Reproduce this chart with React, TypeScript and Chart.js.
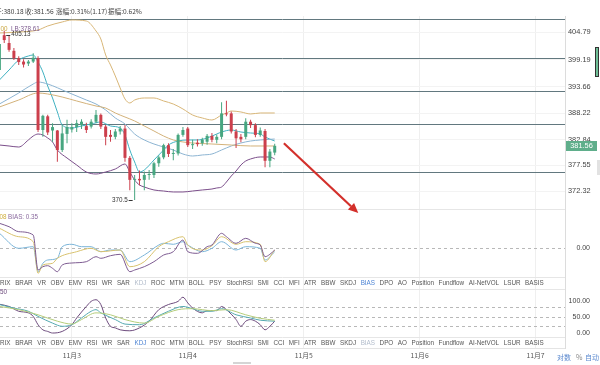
import { useEffect, useRef } from "react";
import { Chart, registerables } from "chart.js";

Chart.register(...registerables);

const LATIN = '"Liberation Sans", Arial, sans-serif';
const CJK = '"Noto Sans CJK SC", "Liberation Sans", sans-serif';

// ---------------- data ----------------
const opens = [
  397.1, 404.2, 402.6, 401.0, 399.5, 398.8, 398.4, 398.8, 399.5, 384.8,
  387.6, 384.7, 384.7, 380.7, 384.0, 384.9, 385.4, 385.8, 385.6, 385.5,
  386.5, 387.9, 385.5, 383.8, 383.4, 384.5, 385.1, 379.1, 374.6, 374.8,
  374.6, 375.6, 375.6, 378.0, 379.2, 381.7, 379.9, 380.0, 383.8, 385.1,
  381.7, 382.2, 382.1, 382.4, 383.6, 382.8, 383.4, 388.2, 388.2, 384.5,
  383.4, 383.4, 386.5, 385.8, 383.8, 384.6, 378.5, 380.18,
];
const highs = [
  402.9, 405.13, 404.2, 401.6, 399.9, 399.3, 399.1, 400.5, 399.9, 387.9,
  387.9, 386.2, 384.8, 385.8, 386.9, 386.2, 386.9, 387.0, 386.3, 387.0,
  388.9, 388.2, 385.8, 384.8, 385.0, 385.6, 385.8, 379.5, 375.6, 376.5,
  376.3, 376.6, 378.3, 379.6, 382.0, 382.1, 380.9, 384.1, 385.4, 385.4,
  382.8, 382.9, 383.2, 384.0, 384.2, 383.9, 390.5, 390.8, 388.6, 385.0,
  384.0, 387.2, 386.9, 386.2, 385.3, 385.0, 380.9, 382.0,
];
const lows = [
  396.1, 402.6, 400.8, 399.1, 398.1, 397.6, 397.9, 398.5, 384.4, 383.4,
  383.8, 382.4, 378.3, 380.3, 382.1, 384.3, 384.4, 385.0, 384.2, 385.1,
  386.2, 385.0, 381.7, 382.4, 382.9, 383.9, 378.3, 372.5, 370.5, 373.5,
  372.5, 374.6, 375.0, 377.3, 378.8, 379.3, 378.6, 379.6, 383.4, 381.3,
  380.9, 381.4, 381.6, 381.8, 382.3, 382.1, 382.9, 387.6, 384.1, 381.1,
  382.3, 382.9, 385.2, 383.3, 383.4, 377.2, 377.2, 379.64,
];
const closes = [
  402.4, 403.2, 401.2, 399.5, 398.7, 398.2, 398.8, 399.6, 384.8, 387.7,
  384.3, 385.4, 380.7, 384.1, 385.4, 385.4, 386.2, 386.5, 384.8, 386.5,
  387.9, 385.5, 383.4, 383.4, 384.5, 385.1, 379.1, 374.6, 374.8, 374.5,
  375.6, 375.7, 378.0, 379.2, 381.7, 379.9, 380.0, 383.8, 384.8, 381.7,
  381.9, 381.9, 382.8, 383.6, 382.8, 383.4, 388.2, 388.0, 384.5, 383.1,
  382.9, 386.5, 385.8, 383.8, 384.7, 378.5, 380.39, 381.56,
];

type Pt = [number, number];
const bollUpper: Pt[] = [[0,404.65],[4,404.85],[8,405.26],[10,406.08],[13,406.9],[15,407.31],[18,407.1],[20,405.06],[21,403.42],[22,400.15],[23,398.1],[24,395.85],[25,393.4],[26,391.15],[27,390.33],[28,390.94],[30,391.35],[32,391.35],[34,390.74],[36,390.12],[38,389.1],[40,387.87],[42,387.26],[44,386.85],[46,387.87],[47,388.28],[48,388.69],[50,388.49],[52,388.08],[54,388.28],[57,388.28]];
const bollMid: Pt[] = [[0,389.51],[4,390.94],[8,392.37],[10,392.17],[13,391.55],[16,390.74],[20,389.71],[22,389.3],[24,388.28],[26,387.46],[28,386.65],[30,385.62],[32,384.6],[34,383.57],[36,382.76],[38,382.35],[40,382.14],[44,381.94],[48,381.73],[52,381.53],[57,381.53]];
const bollLower: Pt[] = [[0,381.73],[2,381.53],[4,381.32],[6,382.76],[7,383.57],[8,383.98],[9,383.78],[10,383.17],[11,382.35],[12,380.71],[14,379.07],[16,377.64],[18,376.21],[20,375.8],[22,376.21],[24,376.82],[26,377.85],[27,376.21],[28,374.57],[29,373.55],[30,373.14],[32,372.53],[34,372.32],[36,372.12],[38,372.12],[40,372.32],[42,372.53],[44,372.73],[45,372.94],[46,373.14],[47,374.16],[48,375.39],[49,376.41],[50,377.64],[51,378.46],[52,378.87],[54,379.28],[56,379.28],[57,378.87]];
const maFast: Pt[] = [[0,395.03],[2,397.08],[4,399.12],[6,399.94],[7,400.15],[8,398.71],[9,396.67],[10,393.8],[11,391.35],[12,388.49],[13,385.83],[15,385.21],[17,385.62],[19,386.03],[21,386.44],[23,385.62],[25,385.21],[26,383.78],[27,380.71],[28,378.26],[29,376.21],[30,376.62],[32,378.66],[34,380.71],[35,381.73],[37,382.55],[39,382.76],[41,382.76],[43,383.17],[45,383.98],[46,384.39],[48,384.8],[50,384.39],[52,384.19],[54,383.98],[55,383.37],[57,382.55]];
const maSlow: Pt[] = [[0,390.12],[4,392.37],[7,394.21],[8,394.62],[10,394.21],[14,392.58],[18,390.94],[20,390.12],[22,388.9],[24,387.26],[26,386.03],[28,383.98],[30,382.76],[32,381.94],[34,381.32],[36,380.71],[38,379.89],[40,379.48],[42,379.69],[44,379.89],[46,380.71],[48,381.53],[50,382.14],[52,382.55],[54,382.76],[57,382.96]];

const biasPurple: Pt[] = [[0,2.44],[2,2.1],[4,1.6],[7,1.27],[8,-2.23],[9,-1.9],[10,-1.8],[11,-2.06],[12,-2.4],[13,-1.73],[15,-1.53],[18,-1.4],[20,-0.9],[21,-1.06],[23,-0.8],[25,-0.66],[27,-2.4],[28,-2.23],[30,-1.9],[32,-1.4],[34,-0.73],[36,-0.4],[38,0.77],[39,-0.4],[41,-0.56],[43,0.1],[44,0.27],[46,1.44],[47,1.1],[49,0.44],[51,0.94],[53,0.44],[54,0.27],[55,-0.9],[56,-0.66],[57,-0.23]];
const biasYellow: Pt[] = [[0,1.94],[4,1.1],[7,0.6],[8,-2.56],[9,-1.73],[11,-1.56],[12,-1.06],[16,-0.4],[19,-0.06],[21,-0.4],[25,-0.23],[27,-1.9],[30,-1.4],[33,0.1],[35,0.6],[38,1.1],[39,0.27],[42,-0.23],[44,0.2],[46,1.1],[49,0.34],[51,0.6],[54,0.34],[55,-1.4],[57,-0.23]];
const biasBlue: Pt[] = [[0,1.44],[4,-0.06],[7,0.1],[8,-2.4],[9,-1.56],[10,-1.23],[12,-1.06],[13,0.1],[15,0.34],[17,0.1],[19,0.1],[21,-0.4],[23,-0.23],[25,-0.23],[27,-1.4],[30,-0.73],[33,0.27],[34,0.44],[36,0.34],[38,0.6],[39,0.27],[42,-0.4],[44,-0.06],[46,0.6],[49,-0.23],[51,0.1],[54,-0.06],[55,-1.23],[57,-0.4]];

const kdjJ: Pt[] = [[0,89],[2,82],[4,67],[6,62],[7,51],[8,25],[9,9],[10,4],[11,-1],[13,4],[15,25],[16,46],[18,82],[19,98],[20,103],[21,88],[22,46],[23,20],[24,15],[25,9],[27,6],[29,15],[31,36],[33,72],[35,88],[37,98],[38,111],[39,93],[40,77],[42,62],[43,69],[45,69],[46,82],[47,72],[49,41],[50,20],[51,36],[52,41],[53,36],[54,25],[55,9],[56,20],[57,36]];
const kdjK: Pt[] = [[0,88],[3,77],[6,67],[8,51],[11,30],[13,20],[15,25],[17,46],[19,67],[20,72],[21,62],[24,41],[26,27],[29,25],[32,46],[35,67],[38,82],[40,75],[42,67],[44,67],[46,75],[49,56],[52,46],[54,39],[57,36]];
const kdjD: Pt[] = [[0,82],[4,72],[8,56],[12,36],[15,27],[17,41],[20,62],[23,56],[26,41],[30,30],[33,51],[37,72],[40,75],[44,69],[47,72],[51,56],[54,45],[57,39]];

const priceTicks = [404.79, 399.19, 393.66, 388.22, 382.84, 377.55, 372.32];
const dateTickIndex = [15, 39, 63, 87, 111];
const dateLabels = ["11月3", "11月4", "11月5", "11月6", "11月7"];
const drawnLevels = [407.45, 399.47, 392.78, 385.97, 376.27];
const biasRefLevels = [0];
const biasTickValues = [0];
const kdjRefLevels = [80, 50, 20];
const kdjTickValues = [100, 50, 0];
const arrowFrom: Pt = [58.9, 382.1];
const arrowTo: Pt = [74.3, 367.8];

const quoteOpen = "380.18";
const quoteClose = "381.56";
const changePct = "0.31";
const changeAbs = "1.17";
const amplitudePct = "0.62";
const bollUbLegend = "388.00";
const bollLbLegend = "378.61";
const biasPrevLegend = "0.08";
const biasLegend = "0.35";
const kdjLegend = "36.50";

const indicatorTabs = ["TRIX","BRAR","VR","OBV","EMV","RSI","WR","SAR","KDJ","ROC","MTM","BOLL","PSY","StochRSI","SMI","CCI","MFI","ATR","BBW","SKDJ","BIAS","DPO","AO","Position","Fundflow","AI-NetVOL","LSUR","BASIS"];

const indexRange = [0.124, 117.1];
const priceRange = [340.2, 408.125];
const biasRange = [-10.03, 23.17];
const kdjRange = [-47.8, 989.7];

// ---------------- colours ----------------
const GREEN = "#47a680";
const RED = "#cc3f4c";

function txt(ctx: CanvasRenderingContext2D, s: string, x: number, y: number, color: string, font: string, align: CanvasTextAlign = "left") {
  ctx.font = font;
  ctx.fillStyle = color;
  ctx.textAlign = align;
  ctx.textBaseline = "middle";
  ctx.fillText(s, x, y);
}

function hline(ctx: CanvasRenderingContext2D, x1: number, x2: number, y: number) {
  ctx.beginPath();
  ctx.moveTo(x1, y);
  ctx.lineTo(x2, y);
  ctx.stroke();
}

function drawTabs(ctx: CanvasRenderingContext2D, y: number, active: string, muted: string) {
  const font = `6.3px ${LATIN}`;
  ctx.font = font;
  let x = -3.8;
  for (const t of indicatorTabs) {
    const c = t === active ? "#4d84d4" : t === muted ? "#b2bccb" : "#555";
    txt(ctx, t, x, y, c, font);
    ctx.font = font;
    x += ctx.measureText(t).width + 4.6;
  }
}

const decor = {
  id: "decor",
  beforeDatasetsDraw(chart: any) {
    const { ctx, chartArea, scales } = chart;
    const L = chartArea.left, R = chartArea.right;
    ctx.save();
    ctx.lineWidth = 1;
    ctx.strokeStyle = "#e6e6e6";
    for (const sy of [209.5, 277.5, 289.5, 337.5]) hline(ctx, L, R, sy);
    ctx.setLineDash([3, 3]);
    ctx.strokeStyle = "#b8b8b8";
    for (const v of biasRefLevels) hline(ctx, L, R, Math.round(scales.yb.getPixelForValue(v)) + 0.5);
    for (const v of kdjRefLevels) hline(ctx, L, R, Math.round(scales.yk.getPixelForValue(v)) + 0.5);
    ctx.setLineDash([]);
    ctx.strokeStyle = "#62787f";
    for (const v of drawnLevels) hline(ctx, L, R, Math.round(scales.y.getPixelForValue(v)) + 0.5);
    ctx.restore();
  },
  afterDraw(chart: any) {
    const { ctx, scales } = chart;
    const sx = scales.x, sy = scales.y, sb = scales.yb, sk = scales.yk;
    ctx.save();
    const small = `6.3px ${LATIN}`;
    // header
    const hf = `6.6px ${CJK}`;
    const header = [`开:${quoteOpen}`, `收:${quoteClose}`, `涨幅:${changePct}%(${changeAbs})`, `振幅:${amplitudePct}%`];
    const hx = [-5, 25, 56, 108];
    header.forEach((s, k) => txt(ctx, s, hx[k], 11, "#3c3c3c", hf));

    // main legend
    txt(ctx, `UB:${bollUbLegend}`, 7.5, 29, "#c9a640", small, "right");
    txt(ctx, `LB:${bollLbLegend}`, 11, 29, "#7d5a8e", small);

    // high / low markers
    let hi = 0, lo = 0;
    highs.forEach((v, i) => { if (v > highs[hi]) hi = i; });
    lows.forEach((v, i) => { if (v < lows[lo]) lo = i; });
    ctx.strokeStyle = "#333";
    ctx.lineWidth = 1;
    const hxp = sx.getPixelForValue(hi), hyp = sy.getPixelForValue(highs[hi]) + 4;
    hline(ctx, hxp + 2, hxp + 6, Math.round(hyp) + 0.5);
    txt(ctx, String(highs[hi]), hxp + 7, hyp, "#333", small);
    const lxp = sx.getPixelForValue(lo), lyp = sy.getPixelForValue(lows[lo]);
    hline(ctx, lxp - 6, lxp - 2, Math.round(lyp) + 0.5);
    txt(ctx, String(lows[lo]), lxp - 7, lyp, "#333", small, "right");

    // bias legend
    txt(ctx, `BIAS: ${biasPrevLegend}`, 6.5, 217, "#cfae3c", small, "right");
    txt(ctx, `BIAS: ${biasLegend}`, 8, 217, "#8a6a9e", small);
    // kdj legend
    txt(ctx, `J: ${kdjLegend}`, 7, 292, "#6c4a7c", small, "right");

    // right side labels for sub panels
    const rf = `7px ${LATIN}`;
    for (const v of biasTickValues) txt(ctx, v.toFixed(2), 590, sb.getPixelForValue(v), "#444", rf, "right");
    for (const v of kdjTickValues) txt(ctx, v.toFixed(2), 590, sk.getPixelForValue(v), "#444", rf, "right");

    // tabs
    drawTabs(ctx, 283, "BIAS", "KDJ");
    drawTabs(ctx, 343, "KDJ", "BIAS");

    // last price box
    const last = closes.length - 1;
    const py = sy.getPixelForValue(closes[last]);
    ctx.fillStyle = "#5fae8b";
    ctx.fillRect(566, Math.round(py) - 5, 31, 10);
    txt(ctx, closes[last].toFixed(2), 581.5, py, "#fff", `7.4px ${LATIN}`, "center");

    // right scroll marker
    ctx.fillStyle = "#6fbf97";
    ctx.fillRect(595.5, 47.5, 3, 29);
    ctx.strokeStyle = "#333";
    ctx.strokeRect(595.5, 47.5, 3, 29);
    ctx.fillStyle = "#e2e2e2";
    ctx.fillRect(597, 160, 3, 15);

    // arrow
    const x1 = sx.getPixelForValue(arrowFrom[0]), y1 = sy.getPixelForValue(arrowFrom[1]);
    const x2 = sx.getPixelForValue(arrowTo[0]), y2 = sy.getPixelForValue(arrowTo[1]);
    const a = Math.atan2(y2 - y1, x2 - x1);
    const hl = 10, hw = 4.5;
    const bx = x2 - hl * Math.cos(a), by = y2 - hl * Math.sin(a);
    ctx.strokeStyle = "#d3302b";
    ctx.fillStyle = "#d3302b";
    ctx.lineWidth = 2.2;
    ctx.beginPath();
    ctx.moveTo(x1, y1);
    ctx.lineTo(bx, by);
    ctx.stroke();
    ctx.beginPath();
    ctx.moveTo(x2, y2);
    ctx.lineTo(bx + hw * Math.sin(a), by - hw * Math.cos(a));
    ctx.lineTo(bx - hw * Math.sin(a), by + hw * Math.cos(a));
    ctx.closePath();
    ctx.fill();

    // bottom right controls
    const cf = `7px ${CJK}`;
    txt(ctx, "对数", 557, 357, "#5b89cf", cf);
    txt(ctx, "%", 576, 357, "#888", cf);
    txt(ctx, "自动", 585, 357, "#5b89cf", cf);
    ctx.fillStyle = "#d5d5d5";
    ctx.fillRect(233, 362, 18, 2);
    ctx.restore();
  },
};

function line(data: Pt[], color: string, axis: string, order = 5) {
  return {
    type: "line" as const,
    data: data.map(([x, y]) => ({ x, y })),
    borderColor: color,
    borderWidth: 1,
    pointRadius: 0,
    cubicInterpolationMode: "monotone" as const,
    fill: false,
    yAxisID: axis,
    order,
  };
}

export default function App() {
  const ref = useRef<HTMLCanvasElement>(null);
  useEffect(() => {
    const idx = opens.map((_, i) => i);
    const colors = idx.map((i) => (closes[i] >= opens[i] ? GREEN : RED));
    const chart = new Chart(ref.current as HTMLCanvasElement, {
      type: "line",
      data: {
        datasets: [
          line(bollUpper, "#d8b677", "y"),
          line(bollMid, "#d3b27a", "y"),
          line(bollLower, "#7b4e8a", "y"),
          line(maSlow, "#8cb4d2", "y"),
          line(maFast, "#3fb1c1", "y"),
          {
            type: "bar",
            data: idx.map((i) => ({ x: i, y: [lows[i], highs[i]] })),
            backgroundColor: colors,
            barThickness: 1,
            grouped: false,
            inflateAmount: 0,
            yAxisID: "y",
            order: 2,
          } as any,
          {
            type: "bar",
            data: idx.map((i) => ({ x: i, y: [opens[i], closes[i]] })),
            backgroundColor: colors,
            barThickness: 3,
            minBarLength: 1,
            grouped: false,
            inflateAmount: 0,
            yAxisID: "y",
            order: 1,
          } as any,
          line(biasPurple, "#7d5b91", "yb"),
          line(biasYellow, "#d8c26e", "yb"),
          line(biasBlue, "#7ab4d8", "yb"),
          line(kdjD, "#b5cd7a", "yk"),
          line(kdjK, "#54a9b0", "yk"),
          line(kdjJ, "#6c4a7c", "yk"),
        ],
      },
      options: {
        responsive: false,
        devicePixelRatio: 1,
        animation: false,
        events: [],
        layout: { padding: { top: 16, left: 0, right: 0, bottom: 0 } },
        plugins: { legend: { display: false }, tooltip: { enabled: false } },
        scales: {
          x: {
            type: "linear",
            min: indexRange[0],
            max: indexRange[1],
            offset: false,
            grid: { color: "#efefef", drawTicks: false, offset: false },
            border: { color: "#e4e4e4" },
            afterBuildTicks: (axis: any) => {
              axis.ticks = dateTickIndex.map((v) => ({ value: v }));
            },
            afterFit: (axis: any) => {
              axis.height = 17;
            },
            ticks: {
              autoSkip: false,
              maxRotation: 0,
              padding: 3,
              color: "#555",
              font: { family: CJK, size: 6.8 },
              callback: (v: any) => {
                const k = dateTickIndex.indexOf(Number(v));
                return k >= 0 ? dateLabels[k] : "";
              },
            },
          },
          y: {
            type: "linear",
            position: "right",
            min: priceRange[0],
            max: priceRange[1],
            grid: { color: "#f3f3f3", drawTicks: false },
            border: { color: "#dcdcdc" },
            afterBuildTicks: (axis: any) => {
              axis.ticks = priceTicks.map((v) => ({ value: v }));
            },
            afterFit: (axis: any) => {
              axis.width = 35;
            },
            ticks: {
              padding: 3,
              color: "#444",
              font: { family: LATIN, size: 7.4 },
              callback: (v: any) => Number(v).toFixed(2),
            },
          },
          yb: { type: "linear", display: false, min: biasRange[0], max: biasRange[1] },
          yk: { type: "linear", display: false, min: kdjRange[0], max: kdjRange[1] },
        },
      } as any,
      plugins: [decor],
    });
    return () => chart.destroy();
  }, []);
  return (
    <div style={{ position: "absolute", left: 0, top: 0, width: 600, height: 365, background: "#fff" }}>
      <canvas ref={ref} width={600} height={365} style={{ display: "block" }} />
    </div>
  );
}
